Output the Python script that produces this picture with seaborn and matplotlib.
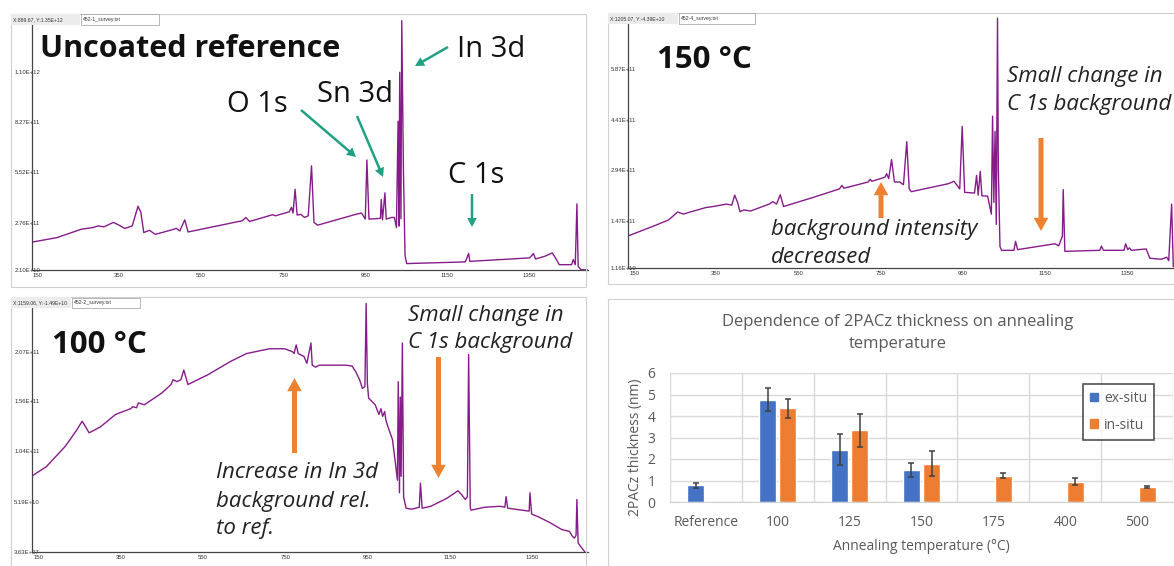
import numpy as np
import pandas as pd
import matplotlib
matplotlib.use("Agg")
import matplotlib.pyplot as plt
from matplotlib.patches import Rectangle, FancyArrowPatch, Patch
import seaborn as sns

# XPS survey spectra: kinetic energy (eV) and intensity (x 1e11 counts)
ref_energy = [138, 138, 198, 258, 286, 299, 313, 336, 350, 364, 382, 396, 403, 410, 424, 438, 484, 489,
              498, 510, 518, 650, 659, 668, 724, 731, 765, 770, 774, 779, 784, 793, 802, 811, 819, 825,
              834, 927, 941, 950, 954, 959, 987, 989, 992, 998, 1001, 1014, 1021, 1026, 1030, 1032, 1034,
              1037, 1039, 1043, 1047, 1051, 1194, 1202, 1205, 1351, 1360, 1365, 1388, 1406, 1416, 1423,
              1453, 1457, 1462, 1466, 1469, 1476, 1494]
ref_counts = [0.21, 1.73, 1.97, 2.43, 2.52, 2.61, 2.56, 2.80, 2.65, 2.47, 2.61, 3.68, 3.35, 2.25, 2.37, 2.15,
              2.43, 2.48, 2.34, 2.94, 2.28, 2.89, 3.07, 2.85, 3.22, 3.16, 3.38, 3.62, 3.31, 4.60, 3.20, 3.24,
              3.07, 3.16, 5.88, 2.80, 2.65, 3.24, 3.31, 2.98, 6.20, 2.98, 3.02, 4.05, 2.94, 4.41, 2.98, 3.07,
              3.07, 2.52, 8.31, 2.60, 10.97, 3.00, 13.78, 5.74, 1.00, 0.56, 0.65, 1.11, 0.68, 0.87, 1.11,
              0.81, 0.96, 1.14, 0.78, 0.50, 0.50, 0.78, 0.50, 3.81, 0.41, 0.23, 0.21]

t150_energy = [134, 134, 197, 234, 256, 270, 284, 325, 343, 375, 388, 395, 402, 408, 417, 434, 479, 488,
               497, 506, 514, 588, 650, 656, 661, 720, 725, 729, 761, 765, 770, 777, 784, 797, 806, 814,
               820, 825, 915, 929, 943, 949, 955, 979, 984, 988, 993, 997, 1011, 1020, 1023, 1026, 1029,
               1032, 1035, 1037, 1041, 1045, 1075, 1079, 1084, 1175, 1184, 1193, 1195, 1199, 1284, 1288,
               1293, 1343, 1347, 1352, 1356, 1361, 1397, 1406, 1434, 1447, 1452, 1459, 1463, 1494]
t150_counts = [0.116, 1.03, 1.32, 1.50, 1.73, 1.67, 1.72, 1.86, 1.89, 1.96, 1.93, 2.22, 2.01, 1.74, 1.79,
               1.76, 1.96, 2.03, 1.96, 2.23, 1.89, 2.16, 2.40, 2.50, 2.42, 2.60, 2.68, 2.62, 2.74, 2.84,
               2.70, 3.25, 2.60, 2.60, 2.52, 3.77, 2.40, 2.32, 2.55, 2.62, 2.40, 4.21, 2.30, 2.28, 2.79,
               2.22, 2.91, 2.20, 2.19, 1.67, 4.51, 2.01, 4.07, 1.37, 7.35, 2.99, 0.73, 0.62, 0.62, 0.88,
               0.64, 0.81, 0.75, 1.03, 2.38, 0.59, 0.62, 0.74, 0.62, 0.62, 0.81, 0.64, 0.69, 0.62, 0.66,
               0.39, 0.36, 0.42, 0.32, 1.96, 0.15, 0.12]

t100_energy = [133, 133, 169, 215, 243, 256, 262, 273, 300, 337, 374, 379, 388, 393, 407, 449, 472, 477,
               486, 496, 503, 513, 561, 617, 655, 711, 748, 767, 771, 776, 781, 795, 802, 812, 815, 823,
               832, 860, 898, 912, 921, 930, 937, 943, 946, 949, 952, 968, 977, 982, 986, 991, 994, 1000,
               1010, 1017, 1022, 1024, 1027, 1029, 1031, 1034, 1037, 1043, 1057, 1075, 1078, 1082, 1103,
               1141, 1169, 1178, 1187, 1192, 1195, 1199, 1201, 1234, 1271, 1283, 1286, 1290, 1342, 1344,
               1348, 1365, 1393, 1421, 1440, 1447, 1452, 1456, 1458, 1461, 1468, 1477]
t100_counts = [0.0004, 0.78, 0.88, 1.09, 1.26, 1.35, 1.31, 1.23, 1.29, 1.42, 1.48, 1.50, 1.49, 1.54, 1.52,
               1.64, 1.73, 1.78, 1.76, 1.78, 1.88, 1.73, 1.83, 1.97, 2.05, 2.10, 2.10, 2.07, 2.05, 2.14,
               2.05, 2.02, 1.95, 2.16, 1.93, 1.91, 1.93, 1.93, 1.93, 1.92, 1.86, 1.78, 1.69, 1.71, 2.57,
               1.74, 1.59, 1.52, 1.42, 1.48, 1.40, 1.45, 1.36, 1.28, 1.16, 0.92, 0.74, 1.76, 0.61, 1.60,
               0.78, 2.16, 0.57, 0.45, 0.44, 0.46, 0.71, 0.45, 0.47, 0.55, 0.63, 0.59, 0.54, 0.57, 2.04,
               0.45, 0.43, 0.46, 0.47, 0.46, 0.57, 0.45, 0.42, 0.61, 0.39, 0.36, 0.30, 0.23, 0.21, 0.16,
               0.14, 0.17, 0.54, 0.09, 0.05, 0.0004]

# axis tick values / labels shown by the XPS software
ref_yticks = [0.21, 2.76, 5.52, 8.27, 11.0]
ref_ylabels = ["2.10E+10", "2.76E+11", "5.52E+11", "8.27E+11", "1.10E+12"]
t150_yticks = [0.116, 1.47, 2.94, 4.41, 5.87]
t150_ylabels = ["1.16E+10", "1.47E+11", "2.94E+11", "4.41E+11", "5.87E+11"]
t100_yticks = [0.000363, 0.519, 1.04, 1.56, 2.07]
t100_ylabels = ["3.63E+07", "5.19E+10", "1.04E+11", "1.56E+11", "2.07E+11"]

# 2PACz thickness vs annealing temperature
temp_labels = ["Reference", "100", "125", "150", "175", "400", "500"]
ex_situ = [0.78, 4.75, 2.44, 1.49, np.nan, np.nan, np.nan]
ex_err = [0.11, 0.53, 0.70, 0.33, np.nan, np.nan, np.nan]
in_situ = [np.nan, 4.35, 3.33, 1.79, 1.23, 0.95, 0.70]
in_err = [np.nan, 0.45, 0.75, 0.59, 0.13, 0.15, 0.03]

sns.set_style("white")
plt.rcParams["font.family"] = ["Open Sans", "DejaVu Sans"]

W, H = 1174, 566
fig = plt.figure(figsize=(W / 100, H / 100), dpi=100)


def fx(x):
    return x / W


def fy(y):
    return 1 - y / H


def box(x0, y0, x1, y1):
    return [x0 / W, 1 - y1 / H, (x1 - x0) / W, (y1 - y0) / H]


def rect(x0, y0, x1, y1, **kw):
    fig.add_artist(Rectangle((fx(x0), fy(y1)), (x1 - x0) / W, (y1 - y0) / H,
                             transform=fig.transFigure, **kw))


def arrow(x0, y0, x1, y1, color, tail, hw, hl):
    fig.add_artist(FancyArrowPatch((fx(x0), fy(y0)), (fx(x1), fy(y1)), transform=fig.transFigure,
                                   arrowstyle=f"simple,head_width={hw},head_length={hl},tail_width={tail}",
                                   mutation_scale=1, color=color, lw=0, shrinkA=0, shrinkB=0))


# panel frames (screenshots)
for x0, y0, x1, y1 in [(11, 14, 586, 287), (608, 13, 1190, 284), (11, 297, 586, 580), (608, 299, 1190, 580)]:
    rect(x0, y0, x1, y1, fill=False, edgecolor="#cfcfcf", lw=0.8)

purple = "#861c8a"


def spectrum(pos, energy, counts, xlim, ylim, yticks, ylabels):
    ax = fig.add_axes(pos)
    sns.lineplot(x=energy, y=counts, ax=ax, sort=False, estimator=None, color=purple, lw=1.0)
    ax.set_xlim(*xlim)
    ax.set_ylim(*ylim)
    ax.set_facecolor("none")
    for s in ["top", "right"]:
        ax.spines[s].set_visible(False)
    for s in ["left", "bottom"]:
        ax.spines[s].set_color("#444444")
        ax.spines[s].set_linewidth(0.9)
    xt = np.arange(150, xlim[1], 100)
    ax.set_xticks(xt)
    ax.set_xticklabels([str(v) if (v - 150) % 200 == 0 else "" for v in xt])
    ax.set_yticks(yticks)
    ax.set_yticklabels(ylabels)
    mids = list((np.array(yticks[:-1]) + np.array(yticks[1:])) / 2)
    mids.append(yticks[-1] + (yticks[-1] - yticks[-2]) / 2)
    ax.set_yticks(mids, minor=True)
    ax.tick_params(axis="both", which="both", direction="in", length=3, width=0.8, color="#444444",
                   labelsize=4.3, labelcolor="#333333")
    ax.tick_params(axis="y", pad=-6)
    ax.tick_params(axis="x", pad=2.5)
    for t in ax.get_xticklabels() + ax.get_yticklabels():
        t.set_family(["Liberation Sans", "DejaVu Sans"])
    return ax


ax1 = spectrum(box(32, 15, 588, 270), ref_energy, ref_counts, (137.6, 1493), (0.21, 14.09),
               ref_yticks, ref_ylabels)
ax2 = spectrum(box(627.5, 14, 1186, 267.7), t150_energy, t150_counts, (134, 1494), (0.116, 7.47),
               t150_yticks, t150_ylabels)
ax3 = spectrum(box(31.5, 299, 588, 551.7), t100_energy, t100_counts, (133, 1485), (0.0, 2.615),
               t100_yticks, t100_ylabels)

# header boxes of the XPS software
small = dict(fontsize=3.7, color="#333333", va="center", family=["Liberation Sans", "DejaVu Sans"])
for (gx0, gx1, wx1, y0, y1, coord, name) in [
        (11, 80, 159, 14, 25, "X:889.67, Y:1.35E+12", "452-1_survey.txt"),
        (608, 678, 755, 13, 24, "X:1205.07, Y:-4.39E+10", "452-4_survey.txt"),
        (11, 71, 140, 297, 308, "X:1159.06, Y:-1.49E+10", "452-2_survey.txt")]:
    rect(gx0, y0, gx1, y1, facecolor="#ececec", edgecolor="none")
    rect(gx1 + 1, y0 + 0.5, wx1, y1, facecolor="white", edgecolor="#9a9a9a", lw=0.5)
    fig.text(fx(gx0 + 2), fy((y0 + y1) / 2), coord, **small)
    fig.text(fx(gx1 + 3), fy((y0 + y1) / 2), name, **small)

# annotations
big = dict(color="#111111", va="baseline")
fig.text(fx(40), fy(57), "Uncoated reference", fontweight="bold", fontsize=22, **big)
fig.text(fx(657), fy(68), "150 °C", fontweight="bold", fontsize=22.5, **big)
fig.text(fx(52), fy(353), "100 °C", fontweight="bold", fontsize=22.5, **big)
fig.text(fx(457), fy(57), "In 3d", fontsize=21, **big)
fig.text(fx(227), fy(112), "O 1s", fontsize=21, **big)
fig.text(fx(317), fy(102), "Sn 3d", fontsize=21, **big)
fig.text(fx(448), fy(183), "C 1s", fontsize=21, **big)

teal = "#21a184"
arrow(448, 47, 415, 66, teal, 1.8, 7, 6.5)
arrow(301, 110, 356, 157, teal, 1.8, 7, 6.5)
arrow(357, 116, 383, 177, teal, 1.8, 7, 6.5)
arrow(472, 194, 472, 227, teal, 1.8, 7, 6.5)

ital = dict(fontsize=16, color="#222222", va="baseline", style="italic")
fig.text(fx(1007), fy(82), "Small change in", **ital)
fig.text(fx(1007), fy(110), "C 1s background", **ital)
fig.text(fx(771), fy(235), "background intensity", **ital)
fig.text(fx(771), fy(263), "decreased", **ital)
fig.text(fx(408), fy(321), "Small change in", **ital)
fig.text(fx(408), fy(348), "C 1s background", **ital)
fig.text(fx(216), fy(478), "Increase in In 3d", **ital)
fig.text(fx(216), fy(507), "background rel.", **ital)
fig.text(fx(216), fy(534), "to ref.", **ital)

orange = "#ef8230"
arrow(1041, 138, 1041, 231, orange, 3.6, 10.5, 9.5)
arrow(881, 218, 881, 182, orange, 3.6, 10.5, 9.5)
arrow(294.5, 453, 294.5, 378, orange, 3.6, 10.5, 9.5)
arrow(438.5, 357, 438.5, 478, orange, 3.6, 10.5, 9.5)

# bar chart
blue, orng = "#4472c4", "#ed7d31"
grey = "#595959"
df = pd.DataFrame({
    "temp": temp_labels * 2,
    "method": ["ex-situ"] * len(temp_labels) + ["in-situ"] * len(temp_labels),
    "thickness": ex_situ + in_situ,
    "err": ex_err + in_err,
}).dropna()

ax4 = fig.add_axes(box(670, 373, 1173, 502))
sns.barplot(data=df, x="temp", y="thickness", hue="method", order=temp_labels,
            hue_order=["ex-situ", "in-situ"], palette=[blue, orng], width=0.56, gap=0.16,
            saturation=1, errorbar=None, legend=False, ax=ax4)
for cont, method in zip(ax4.containers, ["ex-situ", "in-situ"]):
    sub = df[df["method"] == method]
    for bar in cont:
        h = bar.get_height()
        row = sub[np.isclose(sub["thickness"], h)].iloc[0]
        ax4.errorbar(bar.get_x() + bar.get_width() / 2, h, yerr=row["err"], fmt="none",
                     ecolor="#404040", elinewidth=1.1, capsize=2.5, capthick=1.1)

ax4.set_xlim(-0.5, 6.5)
ax4.set_ylim(0, 6)
ax4.set_yticks(range(7))
ax4.set_xticks(np.arange(-0.5, 7, 1), minor=True)
ax4.yaxis.grid(True, color="#d9d9d9", lw=1)
ax4.xaxis.grid(True, which="minor", color="#d9d9d9", lw=1)
ax4.set_axisbelow(True)
for s in ["top", "right", "left"]:
    ax4.spines[s].set_visible(False)
ax4.spines["bottom"].set_color("#d0d0d0")
ax4.tick_params(axis="both", which="both", length=0, labelsize=10, labelcolor=grey)
ax4.tick_params(axis="y", pad=10.5)
ax4.tick_params(axis="x", pad=9.5)
ax4.set_xlabel("")
ax4.set_ylabel("")
fig.text(fx(635), fy(447), "2PACz thickness (nm)", rotation=90, ha="center", va="center",
         fontsize=10, color=grey)
fig.text(fx(921.5), fy(547), "Annealing temperature (°C)", ha="center", va="center",
         fontsize=10, color=grey)
fig.text(fx(898), fy(333), "Dependence of 2PACz thickness on annealing\ntemperature", ha="center",
         va="center", fontsize=12, color=grey, linespacing=1.5)

handles = [Patch(facecolor=blue, edgecolor=blue), Patch(facecolor=orng, edgecolor=orng)]
leg = ax4.legend(handles, ["ex-situ", "in-situ"], loc="upper left",
                 bbox_to_anchor=(fx(1083), fy(384)), bbox_transform=fig.transFigure,
                 fontsize=10, frameon=True, fancybox=False, handlelength=0.6, handleheight=0.6,
                 handletextpad=0.4, labelspacing=0.85, borderpad=0.5, borderaxespad=0,
                 labelcolor=grey)
leg.get_frame().set_edgecolor("#262626")
leg.get_frame().set_linewidth(1.2)

fig.savefig("out.png", dpi=100)
